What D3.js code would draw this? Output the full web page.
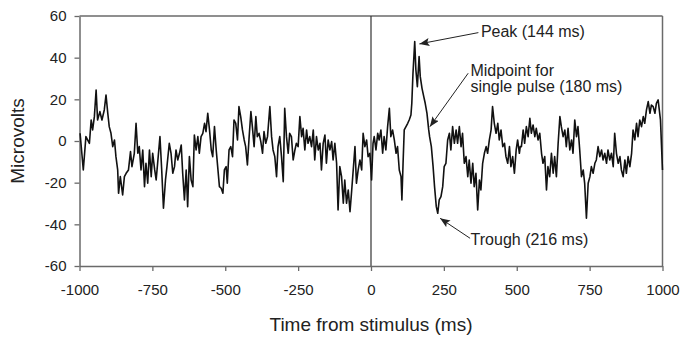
<!DOCTYPE html>
<html><head><meta charset="utf-8">
<script src="https://cdn.jsdelivr.net/npm/d3@7"></script>
<style>body{margin:0;background:#fff;} svg{display:block;font-family:Arial,"Liberation Sans",sans-serif;}</style>
</head><body><svg id="chart" width="680" height="337"></svg>
<script>
// ---- data ----
const timeMs = [-998,-987,-978,-966,-960,-955,-949,-943,-938,-930,-923,-915,-909,-903,-898,-892,-886,-880,-875,-869,-866,-860,-852,-846,-840,-832,-825,-820,-812,-806,-800,-795,-789,-783,-777,-772,-766,-760,-754,-749,-742,-737,-732,-724,-718,-712,-705,-700,-692,-686,-680,-674,-669,-663,-657,-651,-646,-640,-634,-629,-623,-617,-611,-606,-600,-594,-589,-583,-577,-571,-566,-560,-554,-548,-543,-537,-531,-526,-520,-514,-508,-503,-497,
-493,-487,-481,-475,-470,-464,-458,-453,-447,-441,-435,-430,-424,-418,-412,-407,-401,-395,-390,-384,-378,-372,-367,-361,-355,-347,-341,-336,-330,-324,-319,-313,-307,-301,-296,-290,-284,-279,-273,-267,-261,-256,-250,-244,-238,-233,-227,-221,-216,-210,-204,-198,-193,-187,-181,-175,-170,-164,-158,-153,-147,-141,-135,-130,-124,-118,-113,-107,-101,-95,-90,-84,-78,-72,-67,-61,-55,-50,-44,-38,-32,-27,-21,-15,-10,-4,2,
7,11,17,23,28,34,40,45,51,57,63,68,74,80,86,91,97,103,106,110,114,120,126,131,137,140,144,150,154,159,165,169,175,181,186,192,198,201,207,213,218,224,229,234,240,246,251,257,263,269,274,280,286,292,297,303,309,314,320,326,332,337,343,349,354,360,366,372,377,383,389,395,400,406,412,417,423,429,435,440,446,452,458,463,469,475,480,486,492,498,503,509,512,
516,522,527,533,539,545,550,556,562,567,573,579,585,590,596,602,607,613,619,625,630,636,642,648,653,659,665,670,676,682,688,693,699,705,710,716,722,728,733,739,745,751,756,762,768,773,779,785,791,796,802,808,813,819,825,831,836,842,848,854,859,865,871,876,882,888,894,899,905,911,916,922,928,934,939,945,951,957,962,968,974,979,985,989,993,1000];
const microvolts = [3.7,-13.9,2.1,-1.1,10.1,5.3,11.7,24.5,10.1,14.1,10.1,14.9,22.1,13.3,6.9,3.7,-2.7,0.5,-7.5,-13.9,-25.1,-17.1,-25.9,-17.1,-15.5,-13.9,-5.1,-12.3,-5.9,8.5,-5.9,-2.7,-13.9,-4.3,-21.9,-10.7,-20.3,-4.3,-17.1,-5.9,-13.9,-18.7,-10.7,2.1,-13.9,-32.3,-18.7,-12.3,-1.1,-5.9,-15.5,-12.3,-4.3,-9.1,-5.9,-1.9,-15.5,-28.3,-13.9,-31.5,-7.5,-18.7,-21.9,2.9,-4.3,2.1,-5.9,2.1,3.7,8.5,4.5,13.3,5.3,-4.3,-7.5,6.9,-4.3,-12.3,-21.9,-22.7,-25.1,-13.9,-12.3,
-20.3,-4.3,-2.7,-7.5,10.1,8.5,0.5,16.5,11.7,5.3,0.5,-2.7,-11.5,2.1,14.1,6.9,-2.7,11.7,2.1,3.7,-0.3,-5.9,4.5,-1.1,2.1,16.5,2.1,-4.3,-7.5,-17.1,-2.7,2.1,-7.5,-19.5,15.7,2.1,-5.9,3.7,2.1,-9.1,-4.3,-1.1,-2.7,11.7,2.1,6.1,-4.3,5.3,-1.1,2.1,-2.7,5.3,-9.1,2.1,-4.3,-1.1,-13.9,-1.1,2.9,-10.7,0.5,-4.3,-0.3,-9.1,-1.1,-10.7,-33.1,-12.3,-17.1,-29.9,-18.7,-29.9,-23.5,-33.9,-25.1,-13.9,-2.7,-20.3,-13.9,-9.1,-13.9,3.7,-2.7,0.5,-7.5,-5.9,-18.7,
-1.1,2.1,-4.3,3.7,0.5,5.3,-5.9,2.1,-4.3,6.9,15.7,2.1,5.3,0.5,-5.9,-2.7,-13.9,-17.1,-28.3,-10.7,5.3,6.9,8.5,10.1,12.5,18.1,32.5,47.7,34.1,26.1,40.5,30.9,25.3,21.3,18.1,13.3,5.3,2.1,-2.7,-12.3,-21.9,-31.5,-34.7,-28.3,-26.7,-21.9,-12.3,-10.7,0.5,3.7,-4.3,6.9,-1.1,5.3,-1.1,6.9,-2.7,3.7,-10.7,-7.5,-17.1,-9.1,-20.3,-10.7,-21.9,-15.5,-33.1,-18.7,-23.5,-10.7,-5.9,-2.7,-5.9,0.5,5.3,16.5,8.5,3.7,8.5,0.5,5.3,-2.7,-1.1,-7.5,-10.7,-2.7,-12.3,-7.5,-15.5,-4.3,0.5,-5.9,-2.7,
-2.7,5.3,-1.1,6.9,2.1,10.9,3.7,7.7,2.1,6.1,0.5,3.7,-5.9,-10.7,-7.5,-23.5,-12.3,-17.1,-5.9,-15.5,-7.5,-17.1,-1.1,11.7,6.9,2.1,5.3,-2.7,6.1,-4.3,0.5,-5.9,10.1,2.1,6.9,-4.3,-17.1,-13.9,-20.3,-37.1,-20.3,-17.1,-12.3,-15.5,-10.7,-9.1,-2.7,-7.5,-4.3,-9.1,-5.9,-10.7,-4.3,-9.1,-5.9,-12.3,3.7,-5.9,-10.7,-7.5,-13.9,-17.1,-9.1,-15.5,-7.5,-12.3,-5.9,5.3,0.5,8.5,2.1,10.1,6.9,11.7,8.5,14.9,18.9,13.3,17.3,16.5,13.3,18.1,19.7,14.9,10.1,-13.9];
const xTicks = [-1000,-750,-500,-250,0,250,500,750,1000];
const yTicks = [-60,-40,-20,0,20,40,60];
const annoTimes = [166, 202, 237];
const annoValues = [46.6, 6.9, -37.1];
const annoLabels = [["Peak (144 ms)"], ["Midpoint for","single pulse (180 ms)"], ["Trough (216 ms)"]];
const xTitle = "Time from stimulus (ms)";
const yTitle = "Microvolts";

// ---- layout ----
const svg = d3.select("#chart");
const x = d3.scaleLinear().domain([-1000,1000]).range([79.5,662.5]);
const y = d3.scaleLinear().domain([-60,60]).range([266,16]);
const axisColor = "#6a6a6a", textColor = "#222";

// frame (top + right)
svg.append("line").attr("x1",x(-1000)).attr("x2",x(1000)).attr("y1",y(60)).attr("y2",y(60))
  .attr("stroke",axisColor).attr("stroke-width",1.5);
svg.append("line").attr("x1",x(1000)).attr("x2",x(1000)).attr("y1",y(60)).attr("y2",y(-60))
  .attr("stroke",axisColor).attr("stroke-width",1.5);
// stimulus line
svg.append("line").attr("x1",x(0)).attr("x2",x(0)).attr("y1",y(60)).attr("y2",y(-60))
  .attr("stroke","#333").attr("stroke-width",1.2);

const xAxis = svg.append("g").attr("transform",`translate(0,${y(-60)})`)
  .call(d3.axisBottom(x).tickValues(xTicks).tickSize(5).tickSizeOuter(0).tickPadding(13).tickFormat(d=>String(d)));
const yAxis = svg.append("g").attr("transform",`translate(${x(-1000)},0)`)
  .call(d3.axisLeft(y).tickValues(yTicks).tickSize(5).tickSizeOuter(0).tickPadding(8).tickFormat(d=>String(d)));
[xAxis,yAxis].forEach(g=>{
  g.select(".domain").attr("stroke",axisColor).attr("stroke-width",1.5);
  g.selectAll(".tick line").attr("stroke",axisColor).attr("stroke-width",1.3);
  g.selectAll(".tick text").attr("fill",textColor).style("font-size","15px").style("font-family","Arial, 'Liberation Sans', sans-serif");
});

// trace
const idx = d3.range(timeMs.length);
svg.append("path").datum(idx)
  .attr("fill","none").attr("stroke","#111").attr("stroke-width",1.6).attr("stroke-linejoin","round")
  .attr("d", d3.line().x(i=>x(timeMs[i])).y(i=>y(microvolts[i])));

// titles
svg.append("text").attr("x",(x(-1000)+x(1000))/2).attr("y",330.5).attr("text-anchor","middle")
  .attr("fill",textColor).style("font-size","19px").text(xTitle);
svg.append("text").attr("transform",`translate(24,${y(0)}) rotate(-90)`).attr("text-anchor","middle")
  .attr("fill",textColor).style("font-size","19px").text(yTitle);

// annotations
svg.append("defs").append("marker").attr("id","ah").attr("markerUnits","userSpaceOnUse")
  .attr("markerWidth",10).attr("markerHeight",8).attr("refX",10).attr("refY",4).attr("orient","auto")
  .append("path").attr("d","M0,0 L10,4 L0,8 L2,4 Z").attr("fill","#222");
const tailOff = [[59,-11.3],[38.3,-53.4],[30,20]];
const textOff = [[61.5,-6.5],[40.5,-50.2],[30.5,26.7]];
annoTimes.forEach((t,i)=>{
  const tx = x(t), ty = y(annoValues[i]);
  svg.append("line").attr("x1",tx+tailOff[i][0]).attr("y1",ty+tailOff[i][1]).attr("x2",tx).attr("y2",ty)
    .attr("stroke","#222").attr("stroke-width",1).attr("marker-end","url(#ah)");
  const txt = svg.append("text").attr("fill",textColor).style("font-size","16px");
  annoLabels[i].forEach((s,j)=>{
    txt.append("tspan").attr("x",tx+textOff[i][0]).attr("y",ty+textOff[i][1]+j*15.5).text(s);
  });
});
</script></body></html>
